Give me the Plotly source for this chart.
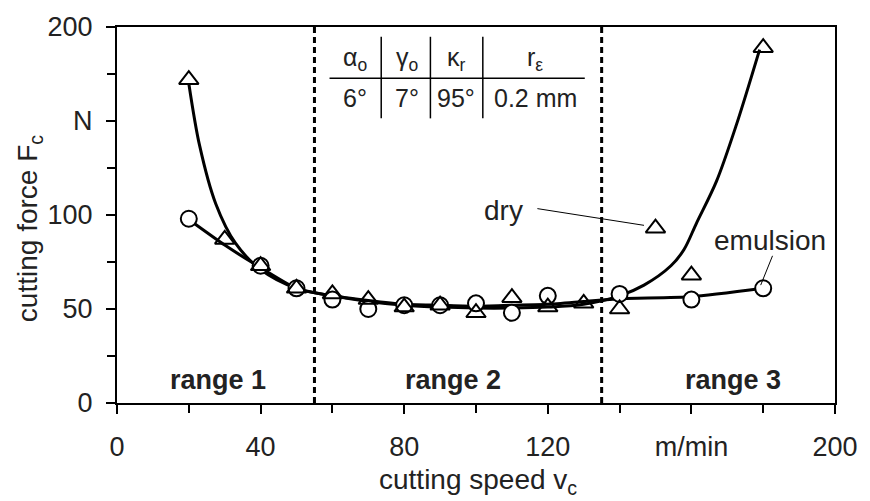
import plotly.graph_objects as go

# ---- data ----
dry_x = [20, 30, 40, 50, 60, 70, 80, 90, 100, 110, 120, 130, 140, 150, 160, 180]
dry_y = [172, 87, 73, 61, 58, 55, 51, 52, 48, 56, 51, 53, 50, 93, 68, 189]

emu_x = [20, 40, 50, 60, 70, 80, 90, 100, 110, 120, 140, 160, 180]
emu_y = [98, 73, 61, 55, 50, 52, 52, 53, 48, 57, 58, 55, 61]

dry_fit_x = [20, 23, 27.5, 33, 40, 50, 60, 70, 80, 90, 100, 110, 120, 130, 140, 146.8, 154.3, 157.9, 161.4, 167, 172.5, 179]
dry_fit_y = [170, 137, 106, 85, 71, 61, 57, 54, 52, 51, 50.5, 50.5, 51, 52.5, 57, 62.7, 73, 81.5, 95.6, 118, 147.8, 188]

emu_fit_x = [20, 30, 40, 50, 60, 70, 80, 90, 100, 110, 120, 130, 140, 160, 180]
emu_fit_y = [97.6, 84, 72, 61, 57, 54.5, 52.5, 52, 51.5, 52, 52.5, 54, 55.5, 56.5, 61]

range_bounds = [55, 135]
range_labels = ["range 1", "range 2", "range 3"]

x_tickvals = [0, 40, 80, 120, 160, 200]
x_ticktext = ["0", "40", "80", "120", "m/min", "200"]
x_minor = [20, 60, 100, 140, 180]
y_tickvals = [0, 50, 100, 150, 200]
y_ticktext = ["0", "50", "100", "N", "200"]
y_minor = [25, 75, 125, 175]

table_head = ["α<sub>o</sub>", "γ<sub>o</sub>", "κ<sub>r</sub>", "r<sub>ε</sub>"]
table_vals = ["6°", "7°", "95°", "0.2 mm"]

FONT = "Liberation Sans, Arial, sans-serif"
TXT = "#222222"

fig = go.Figure()

fig.add_trace(go.Scatter(x=dry_fit_x, y=dry_fit_y, mode="lines",
                         line=dict(color="black", width=3, shape="spline", smoothing=0.9),
                         hoverinfo="skip", showlegend=False))
fig.add_trace(go.Scatter(x=emu_fit_x, y=emu_fit_y, mode="lines",
                         line=dict(color="black", width=3, shape="spline", smoothing=0.6),
                         hoverinfo="skip", showlegend=False))
fig.add_trace(go.Scatter(x=emu_x, y=emu_y, mode="markers", name="emulsion",
                         marker=dict(symbol="circle", size=16, color="white",
                                     line=dict(color="black", width=2)),
                         showlegend=False))
fig.add_trace(go.Scatter(x=dry_x, y=dry_y, mode="markers", name="dry",
                         marker=dict(symbol="triangle-up", size=17, color="rgba(255,255,255,0)",
                                     line=dict(color="black", width=2)),
                         showlegend=False))

shapes = []
for b in range_bounds:
    shapes.append(dict(type="line", xref="x", yref="y", x0=b, x1=b, y0=0, y1=200,
                       line=dict(color="black", width=3, dash="6px,4px")))
# table lines
shapes.append(dict(type="line", xref="x", yref="y", x0=59.2, x1=130.3, y0=172.8, y1=172.8,
                   line=dict(color="black", width=1.5)))
for vx in [73.6, 87.3, 101.9]:
    shapes.append(dict(type="line", xref="x", yref="y", x0=vx, x1=vx, y0=151.4, y1=194.8,
                       line=dict(color="black", width=1.5)))
# leader lines
shapes.append(dict(type="line", xref="x", yref="y", x0=117.1, y0=103.4, x1=146.8, y1=94.5,
                   line=dict(color="black", width=1)))
shapes.append(dict(type="line", xref="x", yref="y", x0=182.6, y0=78.3, x1=179.3, y1=62.7,
                   line=dict(color="black", width=1)))

ann = []
head_x = [66.4, 80.7, 94.5, 116.5]
for hx, h, v in zip(head_x, table_head, table_vals):
    ann.append(dict(x=hx, y=182.8, xref="x", yref="y", text=h, showarrow=False,
                    font=dict(size=25, color=TXT, family=FONT)))
    ann.append(dict(x=hx, y=162.4, xref="x", yref="y", text=v, showarrow=False,
                    font=dict(size=25, color=TXT, family=FONT)))
range_x = [28.1, 93.7, 171.6]
for rx, t in zip(range_x, range_labels):
    ann.append(dict(x=rx, y=12.5, xref="x", yref="y", text="<b>" + t + "</b>", showarrow=False,
                    font=dict(size=27, color=TXT, family=FONT)))
ann.append(dict(x=107.7, y=102.3, xref="x", yref="y", text="dry", showarrow=False,
                font=dict(size=28, color=TXT, family=FONT)))
ann.append(dict(x=181.8, y=86.2, xref="x", yref="y", text="emulsion", showarrow=False,
                font=dict(size=28, color=TXT, family=FONT)))
ann.append(dict(x=0.503, y=-0.209, xref="paper", yref="paper", text="cutting speed v<sub>c</sub>",
                xanchor="center", yanchor="middle",
                showarrow=False, font=dict(size=28, color=TXT, family=FONT)))
ann.append(dict(x=-0.1226, y=0.465, xref="paper", yref="paper", text="cutting force F<sub>c</sub>",
                xanchor="center", yanchor="middle",
                showarrow=False, textangle=-90, font=dict(size=28, color=TXT, family=FONT)))

fig.update_layout(
    width=870, height=501,
    margin=dict(l=117, r=27, t=20, b=98),
    plot_bgcolor="white", paper_bgcolor="white",
    shapes=shapes, annotations=ann,
    xaxis=dict(range=[0, 200], tickmode="array", tickvals=x_tickvals, ticktext=x_ticktext,
               ticks="outside", ticklen=9, tickwidth=1.5, tickcolor="black",
               minor=dict(tickmode="array", tickvals=x_minor, ticks="outside", ticklen=8,
                          tickwidth=1.5, tickcolor="black", showgrid=False),
               showline=True, linecolor="black", linewidth=2, mirror=True,
               showgrid=False, zeroline=False,
               tickfont=dict(size=27, color=TXT, family=FONT), ticklabelstandoff=10),
    yaxis=dict(range=[0, 200], tickmode="array", tickvals=y_tickvals, ticktext=y_ticktext,
               ticks="outside", ticklen=9, tickwidth=1.5, tickcolor="black",
               minor=dict(tickmode="array", tickvals=y_minor, ticks="outside", ticklen=8,
                          tickwidth=1.5, tickcolor="black", showgrid=False),
               showline=True, linecolor="black", linewidth=2, mirror=True,
               showgrid=False, zeroline=False,
               tickfont=dict(size=27, color=TXT, family=FONT), ticklabelstandoff=8),
)

fig.write_html("out.html")
